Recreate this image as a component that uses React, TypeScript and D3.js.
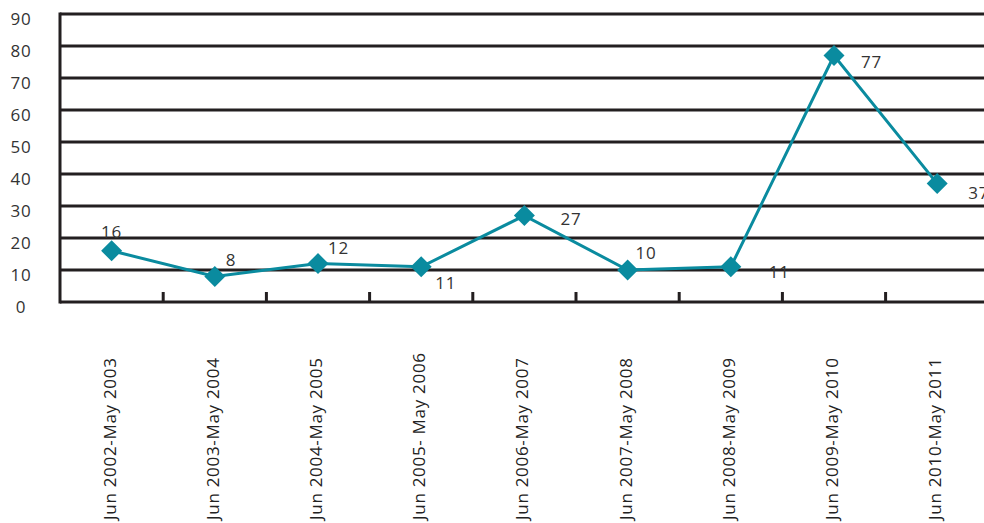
import React from "react";
import * as d3 from "d3";

const categories = [
  "Jun 2002-May 2003",
  "Jun 2003-May 2004",
  "Jun 2004-May 2005",
  "Jun 2005- May 2006",
  "Jun 2006-May 2007",
  "Jun 2007-May 2008",
  "Jun 2008-May 2009",
  "Jun 2009-May 2010",
  "Jun 2010-May 2011",
];
const values = [16, 8, 12, 11, 27, 10, 11, 77, 37];
const yTicks = [0, 10, 20, 30, 40, 50, 60, 70, 80, 90];

// label placement relative to each point: [dx, dy, anchor]
const labelOffsets: [number, number, string][] = [
  [0, -13, "middle"],
  [11, -10, "start"],
  [10, -10, "start"],
  [14, 22, "start"],
  [36, 9, "start"],
  [8, -11, "start"],
  [38, 11, "start"],
  [27, 12, "start"],
  [31, 15, "start"],
];

const W = 984;
const H = 523;
const left = 60;
const top = 14;
const bottom = 302;
const band = 103.2;

export default function App() {
  const x = d3
    .scaleBand<string>()
    .domain(categories)
    .range([left, left + band * categories.length])
    .padding(0);
  const y = d3.scaleLinear().domain([0, 90]).range([bottom, top]);
  const cx = (c: string) => (x(c) as number) + x.bandwidth() / 2;

  const line = d3
    .line<number>()
    .x((_, i) => cx(categories[i]))
    .y((d) => y(d));

  const font = "'Open Sans', sans-serif";
  const ink = "#231f20";
  const teal = "#0a8b9f";
  const right = left + band * categories.length;

  return (
    <svg
      width={W}
      height={H}
      style={{ position: "absolute", left: 0, top: 0, background: "#fff" }}
      fontFamily={font}
    >
      {yTicks.map((t) => (
        <line
          key={"g" + t}
          x1={left}
          x2={right}
          y1={y(t)}
          y2={y(t)}
          stroke={ink}
          strokeWidth={3}
        />
      ))}
      <line x1={left} x2={left} y1={top - 1.5} y2={bottom + 1.5} stroke={ink} strokeWidth={3} />
      {categories.slice(1).map((c) => (
        <line
          key={"t" + c}
          x1={x(c) as number}
          x2={x(c) as number}
          y1={bottom}
          y2={bottom - 10}
          stroke={ink}
          strokeWidth={3}
        />
      ))}
      {yTicks.map((t) => (
        <text
          key={"yl" + t}
          x={21}
          y={y(t) + 5}
          dy="0.35em"
          textAnchor="middle"
          fontSize={17}
          letterSpacing={0.8}
          fill="#333"
        >
          {t}
        </text>
      ))}
      {categories.map((c) => (
        <text
          key={"xl" + c}
          transform={`translate(${cx(c) - 2},520) rotate(-90)`}
          textAnchor="start"
          dy="0.35em"
          fontSize={17}
          letterSpacing={0.7}
          fill="#222"
        >
          {c}
        </text>
      ))}
      <path d={line(values) || ""} fill="none" stroke={teal} strokeWidth={3} />
      {values.map((v, i) => {
        const px = cx(categories[i]);
        const py = y(v);
        const r = 10.5;
        return (
          <path
            key={"m" + i}
            d={`M${px},${py - r}L${px + r},${py}L${px},${py + r}L${px - r},${py}Z`}
            fill={teal}
          />
        );
      })}
      {values.map((v, i) => {
        const [dx, dy, anchor] = labelOffsets[i];
        return (
          <text
            key={"dl" + i}
            x={cx(categories[i]) + dx}
            y={y(v) + dy}
            textAnchor={anchor as any}
            fontSize={17}
            letterSpacing={0.8}
            fill="#333"
          >
            {v}
          </text>
        );
      })}
    </svg>
  );
}
